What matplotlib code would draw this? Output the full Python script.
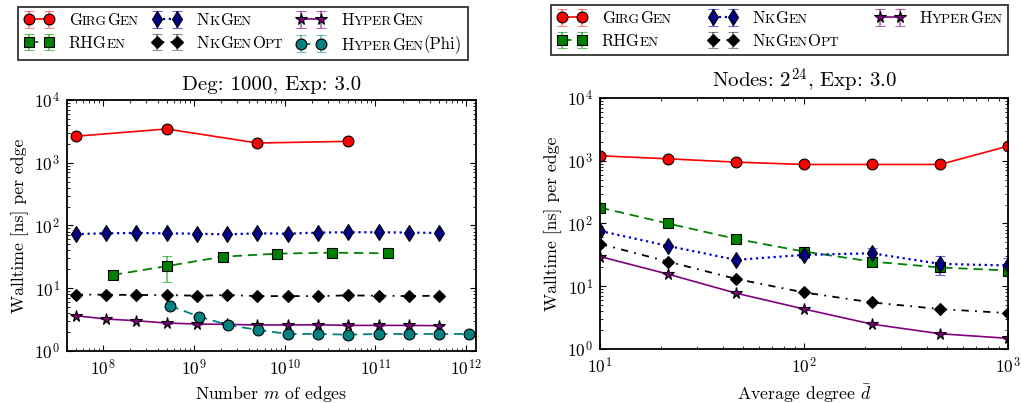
import numpy as np
import matplotlib
matplotlib.use("Agg")
import matplotlib.pyplot as plt
from matplotlib.offsetbox import TextArea, HPacker

plt.rcParams['font.family'] = ['cmr10', 'DejaVu Serif']
plt.rcParams['mathtext.fontset'] = 'cm'
plt.rcParams['axes.formatter.use_mathtext'] = True
plt.rcParams['axes.unicode_minus'] = False

# ---------------- data: left panel (Deg 1000, Exp 3.0) ----------------
m_girg = [5e7, 5e8, 5e9, 5e10]
t_girg = [2640, 3450, 2060, 2190]

m_rhg = [1.28e8, 5.1e8, 2.07e9, 8.3e9, 3.3e10, 1.37e11]
t_rhg = [16.3, 22.6, 31.8, 35.6, 36.9, 36.0]
e_rhg = [0.5, 10.0, 1.0, 1.0, 1.0, 1.0]

m_nk = [5e7, 1.08e8, 2.32e8, 5e8, 1.08e9, 2.32e9, 5e9, 1.08e10, 2.32e10, 5e10, 1.08e11, 2.32e11, 5e11]
t_nk = [73, 75, 76, 75, 74, 72, 75, 74, 77, 78, 78, 77, 76]
e_nk = [1, 1, 1, 1, 1, 1, 1, 1, 1, 1, 1, 1, 1]

t_nkopt = [7.9, 7.9, 7.8, 7.8, 7.6, 7.8, 7.5, 7.5, 7.5, 7.7, 7.6, 7.5, 7.6]
e_nkopt = [0.1] * 13

t_hyp = [3.66, 3.23, 3.04, 2.79, 2.69, 2.66, 2.60, 2.60, 2.62, 2.56, 2.56, 2.56, 2.53]
e_hyp = [0.05] * 13

m_phi = [5.4e8, 1.15e9, 2.4e9, 5.1e9, 1.1e10, 2.35e10, 5e10, 1.08e11, 2.32e11, 5e11, 1.077e12]
t_phi = [5.28, 3.52, 2.59, 2.16, 1.87, 1.87, 1.82, 1.87, 1.87, 1.87, 1.87]
e_phi = [0.05] * 11

# ---------------- data: right panel (Nodes 2^24, Exp 3.0) ----------------
d_avg = [10, 21.5, 46.4, 100, 215, 464, 1000]
r_girg = [1197, 1072, 948, 871, 871, 871, 1706]
r_rhg = [179, 100, 56.8, 35.7, 24.7, 19.9, 17.8]
re_rhg = [2, 1, 1, 1, 1, 1, 1]
r_nk = [76, 43.9, 26.3, 31.6, 33.5, 22.7, 21.4]
re_nk = [1, 1, 1, 3, 7.5, 7.5, 6.5]
r_nkopt = [47.2, 24.7, 13.1, 7.96, 5.52, 4.33, 3.73]
r_hyp = [29.7, 15.6, 7.76, 4.33, 2.49, 1.75, 1.48]

labels = ["GirgGen", "RHGen", "NkGen", "NkGenOpt", "HyperGen", "HyperGen(Phi)"]

styles = {
    "GirgGen": dict(color='#ff0000', marker='o', mfc='#ff0000', ms=7.8, ls='-', lw=1.2, ecolor=(1, 0, 0, 0.45)),
    "RHGen": dict(color='#008000', marker='s', mfc='#008000', ms=7.4, dashes=(5.2, 3.2), lw=1.3, ecolor=(0, 0.6, 0, 0.6)),
    "NkGen": dict(color='#0000cc', marker='d', mfc='#000080', ms=8.0, ls=':', lw=1.6, ecolor=(0, 0, 0.8, 0.6)),
    "NkGenOpt": dict(color='#000000', marker='D', mfc='#000000', ms=6.5, dashes=(4, 3.5, 1, 3.5), lw=1.3, ecolor=(0, 0, 0, 0.45)),
    "HyperGen": dict(color='#800080', marker='*', mfc='#800080', ms=8.5, ls='-', lw=1.2, ecolor=(0.5, 0, 0.5, 0.6)),
    "HyperGen(Phi)": dict(color='#008080', marker='o', mfc='#008080', ms=7.8, dashes=(5.2, 3.2), lw=1.3, ecolor=(0, 0.5, 0.5, 0.5)),
}


def eplot(ax, x, y, yerr, name):
    st = dict(styles[name])
    lw = st.pop('lw', 1.0)
    ecol = st.pop('ecolor')
    return ax.errorbar(x, y, yerr=yerr, mec='black', mew=0.8, lw=lw, elinewidth=1.2,
                       capsize=3.5, capthick=1.2, ecolor=ecol, label=name, **st)


fig = plt.figure(figsize=(10.21, 4.03), dpi=100)
ax1 = fig.add_axes([0.0656, 0.129, 0.4006, 0.623])
ax2 = fig.add_axes([0.5877, 0.134, 0.3996, 0.623])

h1 = []
h1.append(eplot(ax1, m_girg, t_girg, [0] * len(t_girg), "GirgGen"))
h1.append(eplot(ax1, m_rhg, t_rhg, e_rhg, "RHGen"))
h1.append(eplot(ax1, m_nk, t_nk, e_nk, "NkGen"))
h1.append(eplot(ax1, m_nk, t_nkopt, e_nkopt, "NkGenOpt"))
h1.append(eplot(ax1, m_nk, t_hyp, e_hyp, "HyperGen"))
h1.append(eplot(ax1, m_phi, t_phi, e_phi, "HyperGen(Phi)"))

h2 = []
h2.append(eplot(ax2, d_avg, r_girg, [0] * 7, "GirgGen"))
h2.append(eplot(ax2, d_avg, r_rhg, re_rhg, "RHGen"))
h2.append(eplot(ax2, d_avg, r_nk, re_nk, "NkGen"))
h2.append(eplot(ax2, d_avg, r_nkopt, [0.05] * 7, "NkGenOpt"))
h2.append(eplot(ax2, d_avg, r_hyp, [0.02] * 7, "HyperGen"))

for ax in (ax1, ax2):
    ax.set_xscale('log')
    ax.set_yscale('log')
    ax.set_ylim(1, 1e4)
    ax.tick_params(which='both', direction='in', top=True, right=True, labelsize=12.5)
    ax.tick_params(which='major', length=4.5, width=0.8, pad=5)
    ax.tick_params(which='minor', length=2.2, width=0.6)
    for s in ax.spines.values():
        s.set_linewidth(1.3)
    ax.set_ylabel("Walltime [ns] per edge", fontsize=12.7, labelpad=4)

ax1.set_xlim(4e7, 1.28e12)
ax2.set_xlim(10, 1000)
ax1.set_xlabel("Number $m$ of edges", fontsize=12.7)
ax2.set_xlabel(r"Average degree $\bar{d}$", fontsize=12.7)
ax1.set_title("Deg: 1000, Exp: 3.0", fontsize=15, pad=7)
ax2.set_title("Nodes: $2^{24}$, Exp: 3.0", fontsize=15, pad=7)

LEG_FS = 12.0
SC = 0.8


def sc_parts(label):
    main, extra = label, ""
    if "(" in label:
        i = label.index("(")
        main, extra = label[:i], label[i:]
    parts = []
    for ch in main:
        big = ch.isupper()
        txt = ch.upper()
        if parts and parts[-1][1] == big:
            parts[-1] = (parts[-1][0] + txt, big)
        else:
            parts.append((txt, big))
    if extra:
        parts.append((extra, True))
    return parts


def build_label(label):
    boxes = [TextArea(t, textprops=dict(fontsize=LEG_FS * (1.0 if big else SC), family='cmr10',
                                        verticalalignment='baseline',
                                        horizontalalignment='left'))
             for t, big in sc_parts(label)]
    return HPacker(pad=0, sep=0, align='baseline', children=boxes)


def make_legend(handles, bbox):
    leg = fig.legend(handles=handles, labels=[h.get_label() for h in handles],
                     loc='upper left', bbox_to_anchor=bbox, mode='expand', ncol=3,
                     numpoints=2, fontsize=LEG_FS, frameon=True, fancybox=False,
                     edgecolor='black', borderaxespad=0, handlelength=1.8,
                     handletextpad=0.9, columnspacing=1.0, labelspacing=0.45,
                     borderpad=0.35)
    leg.get_frame().set_linewidth(1.3)
    for col in leg._legend_handle_box.get_children():
        for item in col.get_children():
            ta = item.get_children()[1]
            item._children[1] = build_label(ta.get_text())
    leg._legend_box.set_figure(fig)
    return leg


make_legend(h1, (0.0176, 0.8586, 0.4407, 0.1240))
make_legend(h2, (0.5397, 0.8660, 0.4476, 0.1216))

fig.savefig("out.png", dpi=100)
